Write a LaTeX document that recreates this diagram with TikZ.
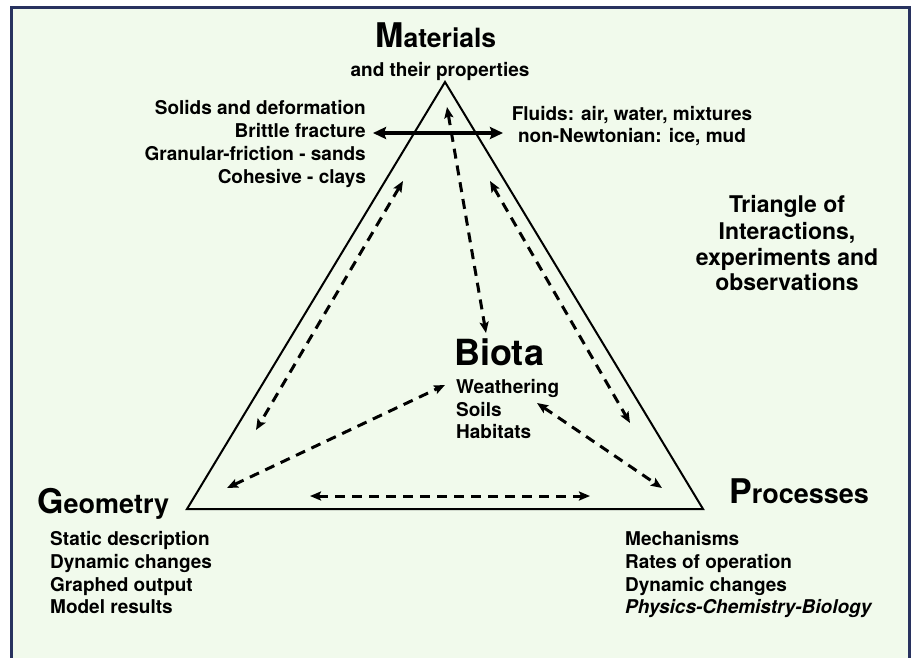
\documentclass[tikz,border=0pt]{standalone}
\usepackage{fontspec}
\setmainfont{TeX Gyre Heros}
\usetikzlibrary{arrows.meta}
\definecolor{bgc}{RGB}{241,250,236}
\definecolor{framec}{RGB}{40,50,95}
\begin{document}
\begin{tikzpicture}[x=1pt,y=-1pt,
  txt/.style={font=\fontsize{19}{23}\selectfont\bfseries, inner sep=0pt, text=black},
  side/.style={font=\fontsize{23}{26}\selectfont\bfseries, inner sep=0pt, text=black},
  big/.style={font=\bfseries, inner sep=0pt, text=black},
  tri/.style={line width=2pt, line join=miter},
  dasharrow/.style={line width=3pt, dash pattern=on 10pt off 7pt,
    {Stealth[length=11pt,width=9pt,inset=2pt]}-{Stealth[length=11pt,width=9pt,inset=2pt]}},
  solidarrow/.style={line width=3.4pt,
    {Stealth[length=13pt,width=12pt,inset=2pt]}-{Stealth[length=13pt,width=12pt,inset=2pt]}}]
\useasboundingbox (0,0) rectangle (912,657);
\fill[white] (0,0) rectangle (912,657);
\draw[framec, line width=3pt, fill=bgc] (11,7) rectangle (909,670);

% triangle
\coordinate (tm) at (445,82);
\coordinate (tl) at (187,509);
\coordinate (tr) at (703,509);
\draw[tri] (tm) -- (tl) -- (tr) -- cycle;

% titles
\node[big, anchor=base west] (mat) at (375,47) {\fontsize{34}{40}\selectfont M\fontsize{26.5}{30}\selectfont aterials};
\node[txt, anchor=base] (matsub) at (440,76) {and their properties};
\node[big, anchor=base west] (geo) at (37,513) {\fontsize{34}{40}\selectfont G\fontsize{27}{30}\selectfont eometry};
\node[big, anchor=base west] (proc) at (729,503) {\fontsize{34}{40}\selectfont P\fontsize{27}{30}\selectfont rocesses};
\node[big, anchor=base west] (bio) at (454,365) {\fontsize{36}{40}\selectfont Biota};

% solids list
\node[txt, anchor=base east] (s1) at (366,114) {Solids and deformation};
\node[txt, anchor=base east] (s2) at (366,137) {Brittle fracture};
\node[txt, anchor=base east] (s3) at (366,160) {Granular-friction - sands};
\node[txt, anchor=base east] (s4) at (366,183) {Cohesive - clays};

% fluids
\node[txt, anchor=base] (f1) at (632,120) {Fluids: air, water, mixtures};
\node[txt, anchor=base] (f2) at (632,142) {non-Newtonian: ice, mud};

% side text
\node[side, anchor=base] (t1) at (787,212) {Triangle of};
\node[side, anchor=base] (t2) at (787,239) {Interactions,};
\node[side, anchor=base] (t3) at (787,265) {experiments and};
\node[side, anchor=base] (t4) at (787,290) {observations};

% biota list
\node[txt, anchor=base west] (b1) at (456,393) {Weathering};
\node[txt, anchor=base west] (b2) at (456,416) {Soils};
\node[txt, anchor=base west] (b3) at (456,438) {Habitats};

% geometry list
\node[txt, anchor=base west] (g1) at (50,545) {Static description};
\node[txt, anchor=base west] (g2) at (50,568) {Dynamic changes};
\node[txt, anchor=base west] (g3) at (50,591) {Graphed output};
\node[txt, anchor=base west] (g4) at (50,613) {Model results};

% processes list
\node[txt, anchor=base west] (p1) at (625,545) {Mechanisms};
\node[txt, anchor=base west] (p2) at (625,568) {Rates of operation};
\node[txt, anchor=base west] (p3) at (625,591) {Dynamic changes};
\node[txt, anchor=base west] (p4) at (625,613) {\itshape Physics-Chemistry-Biology};

% arrow end points
\coordinate (hl) at (373,133);
\coordinate (hr) at (503,133);
\coordinate (mb1) at (447,107);
\coordinate (mb2) at (486,333);
\coordinate (lg1) at (403,181);
\coordinate (lg2) at (256,430);
\coordinate (rp1) at (490,181);
\coordinate (rp2) at (630,423);
\coordinate (gb1) at (227,488);
\coordinate (gb2) at (445,385);
\coordinate (bp1) at (537,403);
\coordinate (bp2) at (662,488);
\coordinate (gp1) at (310,496);
\coordinate (gp2) at (590,496);

\draw[solidarrow] (hl) -- (hr);
\draw[dasharrow] (mb1) -- (mb2);
\draw[dasharrow] (lg1) -- (lg2);
\draw[dasharrow] (rp1) -- (rp2);
\draw[dasharrow] (gb1) -- (gb2);
\draw[dasharrow] (bp1) -- (bp2);
\draw[dasharrow] (gp1) -- (gp2);
\end{tikzpicture}
\end{document}
